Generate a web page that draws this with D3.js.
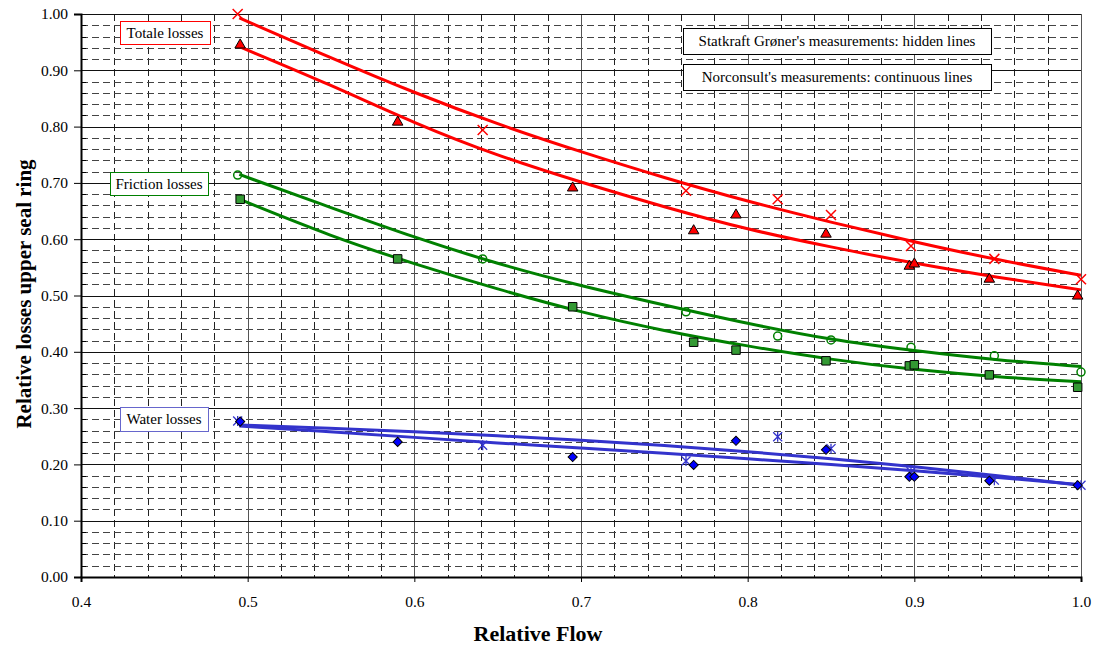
<!DOCTYPE html>
<html>
<head>
<meta charset="utf-8">
<script src="https://cdn.jsdelivr.net/npm/d3@7"></script>
<style>
body { margin: 0; background: #fff; }
svg text { font-family: "Liberation Serif", "DejaVu Serif", serif; }
</style>
</head>
<body>
<div id="chart"></div>
<script>
// tick labels
var xTicks = [0.4, 0.5, 0.6, 0.7, 0.8, 0.9, 1.0];
var yTicks = [0, 0.1, 0.2, 0.3, 0.4, 0.5, 0.6, 0.7, 0.8, 0.9, 1.0];

// Statkraft Groner measurements (relative flow)
var skFlow = [0.494, 0.641, 0.763, 0.818, 0.850, 0.898, 0.948, 1.0];
var skTotal = [1.000, 0.794, 0.686, 0.671, 0.643, 0.588, 0.565, 0.529];
var skFriction = [0.714, 0.565, 0.471, 0.428, 0.421, 0.408, 0.393, 0.364];
var skWater = [0.277, 0.234, 0.206, 0.249, 0.228, 0.187, 0.172, 0.163];

// Norconsult measurements
var ncFlow = [0.4955, 0.590, 0.695, 0.7676, 0.793, 0.847, 0.897, 0.900, 0.945, 0.998];
var ncTotal = [0.945, 0.808, 0.691, 0.615, 0.643, 0.609, 0.552, 0.556, 0.529, 0.499];
var ncFriction = [0.671, 0.565, 0.480, 0.417, 0.403, 0.384, 0.375, 0.377, 0.359, 0.337];
var ncWater = [0.276, 0.240, 0.213, 0.199, 0.242, 0.226, 0.178, 0.178, 0.171, 0.163];

// trend lines
var trendFlow = [0.495, 0.55, 0.6, 0.65, 0.7, 0.75, 0.8, 0.85, 0.9, 0.95, 1.0];
var skTotalTrend = [0.993, 0.922, 0.860, 0.804, 0.755, 0.709, 0.667, 0.630, 0.595, 0.563, 0.536];
var ncTotalTrend = [0.942, 0.874, 0.806, 0.748, 0.701, 0.657, 0.617, 0.586, 0.557, 0.532, 0.510];
var skFrictionTrend = [0.715, 0.656, 0.603, 0.556, 0.517, 0.483, 0.450, 0.421, 0.402, 0.385, 0.374];
var ncFrictionTrend = [0.671, 0.605, 0.556, 0.511, 0.470, 0.437, 0.410, 0.386, 0.368, 0.355, 0.347];
var skWaterTrend = [0.270, 0.264, 0.258, 0.251, 0.243, 0.234, 0.223, 0.210, 0.196, 0.180, 0.163];
var ncWaterTrend = [0.268, 0.258, 0.248, 0.238, 0.229, 0.220, 0.210, 0.200, 0.189, 0.177, 0.164];

var width = 1094, height = 649;
var svg = d3.select("#chart").append("svg")
    .attr("width", width)
    .attr("height", height)
    .attr("font-family", "Liberation Serif");

var margin = {top: 14, right: 13, bottom: 72, left: 81},
    w = width - margin.left - margin.right,
    h = height - margin.top - margin.bottom;

var g = svg.append("g").attr("transform", "translate(" + margin.left + "," + margin.top + ")");

var x = d3.scaleLinear().domain([0.4, 1.0]).range([0, w]);
var y = d3.scaleLinear().domain([0, 1.0]).range([h, 0]);

var minorX = d3.range(0.42, 1.0, 0.02).filter(function(v){ return Math.abs(v*10 - Math.round(v*10)) > 0.01; });
var minorY = d3.range(0.02, 1.0, 0.02).filter(function(v){ return Math.abs(v*10 - Math.round(v*10)) > 0.01; });

// minor dashed grid
g.selectAll(".minorx").data(minorX).enter().append("line")
    .attr("x1", function(d){ return Math.round(x(d)) + 0.5; })
    .attr("x2", function(d){ return Math.round(x(d)) + 0.5; })
    .attr("y1", 0).attr("y2", h)
    .attr("stroke", "#222").attr("stroke-dasharray", "7,4");
g.selectAll(".minory").data(minorY).enter().append("line")
    .attr("y1", function(d){ return Math.round(y(d)) + 0.5; })
    .attr("y2", function(d){ return Math.round(y(d)) + 0.5; })
    .attr("x1", 0).attr("x2", w)
    .attr("stroke", "#444").attr("stroke-dasharray", "7,4");

// major grid
g.selectAll(".majorx").data(xTicks.slice(1)).enter().append("line")
    .attr("x1", function(d){ return Math.round(x(d)) + 0.5; })
    .attr("x2", function(d){ return Math.round(x(d)) + 0.5; })
    .attr("y1", 0).attr("y2", h)
    .attr("stroke", "#555");
g.selectAll(".majory").data(yTicks.slice(1)).enter().append("line")
    .attr("y1", function(d){ return Math.round(y(d)) + 0.5; })
    .attr("y2", function(d){ return Math.round(y(d)) + 0.5; })
    .attr("x1", 0).attr("x2", w)
    .attr("stroke", "#111");

// axes
g.append("g")
    .attr("transform", "translate(0," + h + ")")
    .call(d3.axisBottom(x).tickValues(xTicks).tickFormat(d3.format(".1f")).tickSize(5).tickPadding(14));
g.append("g")
    .call(d3.axisLeft(y).tickValues(yTicks).tickFormat(d3.format(".2f")).tickSize(7).tickPadding(6));
g.selectAll(".domain").attr("stroke", "#000").attr("stroke-width", 2);
g.selectAll(".tick line").attr("stroke", "#000");
g.selectAll(".tick text")
    .attr("font-family", "Liberation Serif")
    .style("font-family", "'Liberation Serif', serif")
    .style("font-size", "15.5px").attr("fill", "#000");

// minor ticks inside the y axis
g.selectAll(".yminor").data(minorY).enter().append("line")
    .attr("x1", 0).attr("x2", 5)
    .attr("y1", function(d){ return Math.round(y(d)) + 0.5; })
    .attr("y2", function(d){ return Math.round(y(d)) + 0.5; })
    .attr("stroke", "#000");

// axis titles
svg.append("text")
    .text("Relative Flow")
    .attr("x", 538).attr("y", 641)
    .attr("text-anchor", "middle")
    .style("font-weight", "bold").style("font-size", "22px");
svg.append("text")
    .text("Relative losses upper seal ring")
    .attr("transform", "translate(31,294) rotate(-90)")
    .attr("text-anchor", "middle")
    .style("font-weight", "bold").style("font-size", "21px");

// trend lines
var line = d3.line()
    .x(function(d){ return x(d[0]); })
    .y(function(d){ return y(d[1]); })
    .curve(d3.curveBasis);

var trends = [
  {v: skTotalTrend, c: "#ff0000"},
  {v: ncTotalTrend, c: "#ff0000"},
  {v: skFrictionTrend, c: "#008000"},
  {v: ncFrictionTrend, c: "#008000"},
  {v: skWaterTrend, c: "#3333cc"},
  {v: ncWaterTrend, c: "#3333cc"}
];
trends.forEach(function(t){
  g.append("path")
    .datum(d3.zip(trendFlow, t.v))
    .attr("d", line)
    .attr("fill", "none")
    .attr("stroke", t.c)
    .attr("stroke-width", 3);
});

// markers
function pts(xs, ys){ return d3.zip(xs, ys); }

// red crosses
g.selectAll(".skt").data(pts(skFlow, skTotal)).enter().append("path")
    .attr("transform", function(d){ return "translate(" + x(d[0]) + "," + y(d[1]) + ")"; })
    .attr("d", "M-5,-5L5,5M-5,5L5,-5")
    .attr("stroke", "#ff0000").attr("stroke-width", 1.5).attr("fill", "none");

// red triangles
g.selectAll(".nct").data(pts(ncFlow, ncTotal)).enter().append("path")
    .attr("transform", function(d){ return "translate(" + x(d[0]) + "," + y(d[1]) + ")"; })
    .attr("d", d3.symbol().type(d3.symbolTriangle).size(48))
    .attr("fill", "#ff0000").attr("stroke", "#000").attr("stroke-width", 1);

// green open circles
g.selectAll(".skf").data(pts(skFlow, skFriction)).enter().append("circle")
    .attr("cx", function(d){ return x(d[0]); })
    .attr("cy", function(d){ return y(d[1]); })
    .attr("r", 4)
    .attr("fill", "none").attr("stroke", "#008000").attr("stroke-width", 1.5);

// green squares
g.selectAll(".ncf").data(pts(ncFlow, ncFriction)).enter().append("path")
    .attr("transform", function(d){ return "translate(" + x(d[0]) + "," + y(d[1]) + ")"; })
    .attr("d", d3.symbol().type(d3.symbolSquare).size(72))
    .attr("fill", "#339933").attr("stroke", "#000").attr("stroke-width", 1);

// blue stars
g.selectAll(".skw").data(pts(skFlow, skWater)).enter().append("path")
    .attr("transform", function(d){ return "translate(" + x(d[0]) + "," + y(d[1]) + ")"; })
    .attr("d", "M-4.5,-4.5L4.5,4.5M-4.5,4.5L4.5,-4.5M0,-5L0,5")
    .attr("stroke", "#3333cc").attr("stroke-width", 1.3).attr("fill", "none");

// blue diamonds
g.selectAll(".ncw").data(pts(ncFlow, ncWater)).enter().append("path")
    .attr("transform", function(d){ return "translate(" + x(d[0]) + "," + y(d[1]) + ") rotate(45)"; })
    .attr("d", d3.symbol().type(d3.symbolSquare).size(42))
    .attr("fill", "#0000ff").attr("stroke", "#000").attr("stroke-width", 1);

// label boxes
function box(label, bx, by, bw, bh, col, fs){
  svg.append("rect")
    .attr("x", bx + 0.5).attr("y", by + 0.5)
    .attr("width", bw).attr("height", bh)
    .attr("fill", "#fff").attr("stroke", col);
  svg.append("text")
    .text(label)
    .attr("x", bx + bw / 2).attr("y", by + bh / 2 + 5)
    .attr("text-anchor", "middle")
    .style("font-size", fs + "px").attr("fill", "#000");
}
box("Totale losses", 120, 21, 90, 23, "#ff0000", 15);
box("Friction losses", 110, 172, 98, 23, "#008000", 15);
box("Water losses", 120, 407, 88, 24, "#6666cc", 15);
box("Statkraft Grøner's measurements: hidden lines", 683, 28, 308, 26, "#000", 15);
box("Norconsult's measurements: continuous lines", 683, 64, 308, 26, "#000", 15);
</script>
</body>
</html>
